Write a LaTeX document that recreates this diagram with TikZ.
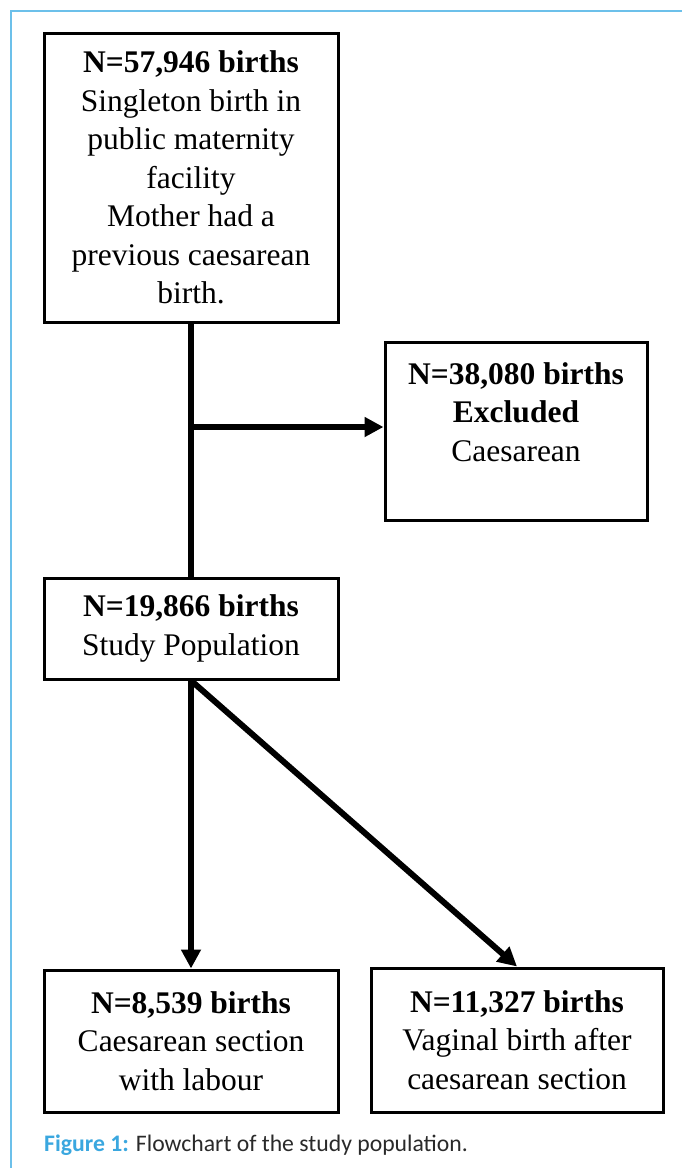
\documentclass[tikz,border=0pt]{standalone}
\usepackage{fontspec}
\setmainfont{Liberation Serif}
\newfontfamily\capfont{Carlito}
\usetikzlibrary{arrows.meta}
\definecolor{frameblue}{HTML}{6CC0EA}
\definecolor{capblue}{HTML}{3AA7DF}
\definecolor{capgray}{HTML}{2A2A2A}
\tikzset{
  box/.style={draw, line width=3pt, align=center, inner sep=0pt,
    font=\fontsize{31.5}{38.5}\selectfont},
  link/.style={draw, line width=6pt},
  arrow/.style={link, -{Triangle[length=19pt,width=19pt]}}
  }
\tikzstyle{caption}=[anchor=base west, inner sep=0pt, text=capgray,
  font=\capfont\fontsize{23.7}{28}\selectfont]

\begin{document}
\begin{tikzpicture}[x=1pt,y=-1pt]
  \useasboundingbox (0,0) rectangle (682,1168);
  \draw[frameblue, line width=1.5pt] (11,1168) -- (11,11) -- (682,11);

  \node[box, minimum width=294pt, minimum height=289pt] (all) at (191,177.5)
    {\textbf{N=57,946 births}\\Singleton birth in\\public maternity\\facility\\
     Mother had a\\previous caesarean\\birth.};
  \node[box, minimum width=262pt, minimum height=178pt] (excl) at (516,431)
    {\textbf{N=38,080 births}\\\textbf{Excluded}\\Caesarean\\\mbox{}};
  \node[box, minimum width=294pt, minimum height=101pt] (study) at (191,628.5)
    {\textbf{N=19,866 births}\\Study Population};
  \node[box, minimum width=294pt, minimum height=142pt] (labour) at (191,1041)
    {\textbf{N=8,539 births}\\Caesarean section\\with labour};
  \node[box, minimum width=292pt, minimum height=144pt] (vbac) at (517,1040)
    {\textbf{N=11,327 births}\\Vaginal birth after\\caesarean section};

  \coordinate (split) at (191,427);
  \path[link] (all) -- (study);
  \path[arrow] (split) -- (split -| excl.west);
  \path[arrow] (study) -- (labour);
  \path[arrow] (study.south) -- (vbac.north);

  \node[caption] (cap) at (44,1151)
    {\textcolor{capblue}{\textbf{Figure 1:}} Flowchart of the study population.};
\end{tikzpicture}
\end{document}
